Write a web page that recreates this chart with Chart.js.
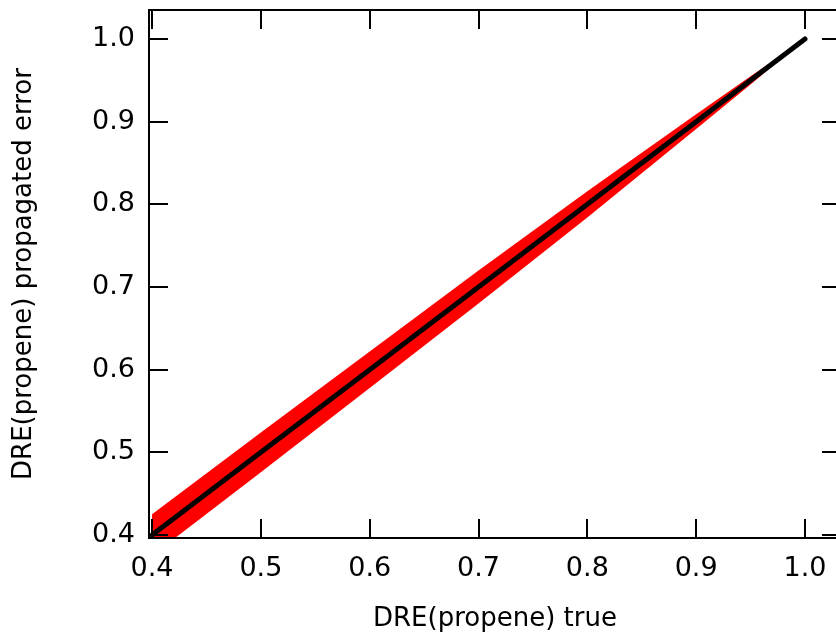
<!DOCTYPE html>
<html>
<head>
<meta charset="utf-8">
<script src="https://cdn.jsdelivr.net/npm/chart.js@4"></script>
<style>
  html, body { margin: 0; padding: 0; overflow: hidden; background: #fff; }
  #wrap { width: 850px; height: 639px; }
</style>
</head>
<body>
<div id="wrap"><canvas id="chart" width="850" height="639"></canvas></div>
<script>
// values
const trueDRE = [0.40, 0.50, 0.60, 0.70, 0.80, 0.90, 0.95, 1.00];
const propagatedDRE = [0.40, 0.50, 0.60, 0.70, 0.80, 0.90, 0.95, 1.00];
const upperBound = [0.425, 0.524, 0.622, 0.720, 0.816, 0.909, 0.955, 1.000];
const lowerBound = [0.375, 0.476, 0.578, 0.680, 0.784, 0.891, 0.945, 1.000];
const tickValues = [0.4, 0.5, 0.6, 0.7, 0.8, 0.9, 1.0];

const pts = ys => trueDRE.map((x, i) => ({ x: x, y: ys[i] }));
const FONT = 'DejaVu Sans';

// frame and inward ticks on all four sides
const frameTicks = {
  id: 'frameTicks',
  afterDatasetsDraw(chart) {
    const { ctx, chartArea: a, scales } = chart;
    const len = 19;
    ctx.save();
    ctx.strokeStyle = '#000';
    ctx.lineWidth = 2;
    ctx.beginPath();
    scales.x.ticks.forEach(t => {
      const px = Math.round(scales.x.getPixelForValue(t.value));
      ctx.moveTo(px, a.bottom); ctx.lineTo(px, a.bottom - len);
      ctx.moveTo(px, a.top); ctx.lineTo(px, a.top + len);
    });
    scales.y.ticks.forEach(t => {
      const py = Math.round(scales.y.getPixelForValue(t.value));
      ctx.moveTo(a.left, py); ctx.lineTo(a.left + len, py);
      ctx.moveTo(a.right, py); ctx.lineTo(a.right - len, py);
    });
    ctx.stroke();
    ctx.strokeRect(a.left, a.top, a.right - a.left, a.bottom - a.top);
    ctx.restore();
  }
};

new Chart(document.getElementById('chart'), {
  type: 'line',
  data: {
    datasets: [
      {
        label: 'true',
        data: pts(propagatedDRE),
        borderColor: '#000',
        borderWidth: 5,
        borderCapStyle: 'round',
        pointRadius: 0,
        fill: false,
        order: 0
      },
      {
        label: 'upper',
        data: pts(upperBound),
        borderWidth: 0,
        borderColor: 'rgba(0,0,0,0)',
        backgroundColor: '#ff0000',
        pointRadius: 0,
        fill: '+1',
        order: 1
      },
      {
        label: 'lower',
        data: pts(lowerBound),
        borderWidth: 0,
        borderColor: 'rgba(0,0,0,0)',
        pointRadius: 0,
        fill: false,
        order: 2
      }
    ]
  },
  options: {
    responsive: false,
    animation: false,
    devicePixelRatio: 1,
    layout: { padding: { top: 10, right: 9, bottom: 0, left: 0 } },
    plugins: { legend: { display: false }, tooltip: { enabled: false } },
    elements: { line: { tension: 0 } },
    scales: {
      x: {
        type: 'linear',
        min: 0.3972,
        max: 1.0331,
        afterBuildTicks: s => { s.ticks = tickValues.map(v => ({ value: v })); },
        afterFit: s => { s.height = 101; s.paddingLeft = 0; s.paddingRight = 0; },
        grid: { display: false, drawTicks: false },
        border: { display: false },
        ticks: {
          color: '#000',
          font: { family: FONT, size: 27 },
          padding: 15,
          maxRotation: 0,
          callback: v => v.toFixed(1)
        },
        title: {
          display: true,
          text: 'DRE(propene) true',
          color: '#000',
          font: { family: FONT, size: 26 },
          padding: { top: 0, bottom: 4 }
        }
      },
      y: {
        type: 'linear',
        min: 0.3964,
        max: 1.0351,
        afterBuildTicks: s => { s.ticks = tickValues.map(v => ({ value: v })); },
        afterFit: s => { s.width = 149; s.paddingTop = 0; s.paddingBottom = 0; },
        grid: { display: false, drawTicks: false },
        border: { display: false },
        ticks: {
          color: '#000',
          font: { family: FONT, size: 27 },
          padding: 14,
          callback: v => v.toFixed(1)
        },
        title: {
          display: true,
          text: 'DRE(propene) propagated error',
          color: '#000',
          font: { family: FONT, size: 26 },
          padding: { top: 9, bottom: 0 }
        }
      }
    }
  },
  plugins: [frameTicks]
});
</script>
</body>
</html>
